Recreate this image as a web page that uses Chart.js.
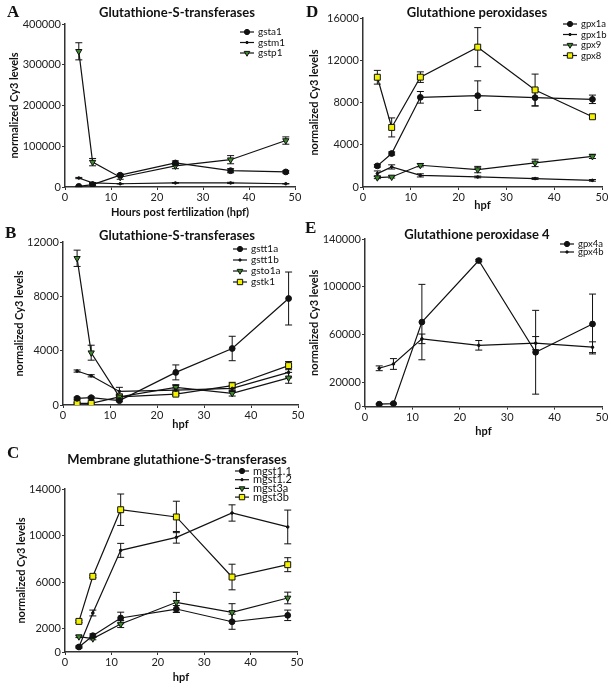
<!DOCTYPE html>
<html>
<head>
<meta charset="utf-8">
<script src="https://cdn.jsdelivr.net/npm/chart.js@4.4.0/dist/chart.umd.min.js"></script>
<style>
  body { margin: 0; background: #fff; width: 614px; height: 689px; position: relative; overflow: hidden; font-family: Lato, sans-serif; color: #111; }
  canvas { position: absolute; }
  .letter { position: absolute; font-family: "Liberation Serif", serif; font-weight: bold; font-size: 17px; line-height: 1; }
  .ttl { position: absolute; font-weight: bold; font-size: 13px; transform: translate(-50%, -50%); white-space: nowrap; }
</style>
</head>
<body>
<canvas id="chartA" width="305" height="222" style="left:0;top:0"></canvas>
<canvas id="chartD" width="314" height="222" style="left:300px;top:0"></canvas>
<canvas id="chartB" width="308" height="210" style="left:0;top:222px"></canvas>
<canvas id="chartE" width="306" height="216" style="left:308px;top:222px"></canvas>
<canvas id="chartC" width="310" height="257" style="left:0;top:432px"></canvas>

<div class="letter" style="left:7px;top:3px">A</div>
<div class="letter" style="left:306px;top:3px">D</div>
<div class="letter" style="left:5px;top:224px">B</div>
<div class="letter" style="left:305px;top:219px">E</div>
<div class="letter" style="left:7px;top:444px">C</div>

<div class="ttl" style="left:177px;top:12px">Glutathione-S-transferases</div>
<div class="ttl" style="left:477px;top:12px">Glutathione peroxidases</div>
<div class="ttl" style="left:177px;top:235px">Glutathione-S-transferases</div>
<div class="ttl" style="left:477px;top:234px">Glutathione peroxidase 4</div>
<div class="ttl" style="left:177px;top:459px">Membrane glutathione-S-transferases</div>

<script>
// hours post fertilization
const hpf = [3, 6, 12, 24, 36, 48];
const hpfTicks = [0, 10, 20, 30, 40, 50];

// A - glutathione-S-transferases
const ticksA = [0, 100000, 200000, 300000, 400000];
const gsta1 = [1600, 6000, 29000, 59000, 40000, 37000];
const gsta1Err = [800, 2000, 3000, 5000, 5000, 3000];
const gstm1 = [22000, 10000, 8000, 10000, 10000, 8000];
const gstm1Err = [1500, 1000, 500, 1000, 1500, 500];
const gstp1 = [333000, 61000, 24000, 52000, 67000, 114000];
const gstp1Err = [21000, 9000, 5000, 7000, 10000, 9000];

// D - glutathione peroxidases
const ticksD = [0, 4000, 8000, 12000, 16000];
const gpx1a = [2000, 3170, 8490, 8650, 8460, 8300];
const gpx1aErr = [120, 150, 550, 1400, 800, 400];
const gpx1b = [1270, 1900, 1100, 950, 800, 630];
const gpx1bErr = [250, 200, 150, 80, 80, 80];
const gpx9 = [890, 950, 2060, 1650, 2280, 2900];
const gpx9Err = [100, 100, 150, 300, 350, 200];
const gpx8 = [10390, 5640, 10400, 13240, 9190, 6650];
const gpx8Err = [650, 900, 500, 1850, 1500, 150];

// B - glutathione-S-transferases
const ticksB = [0, 4000, 8000, 12000];
const gstt1a = [490, 540, 320, 2400, 4160, 7840];
const gstt1aErr = [80, 80, 80, 550, 900, 1950];
const gstt1b = [2500, 2150, 1000, 1100, 1220, 2400];
const gstt1bErr = [80, 80, 300, 150, 200, 400];
const gsto1a = [10800, 3850, 600, 1300, 860, 2000];
const gsto1aErr = [600, 550, 150, 200, 200, 400];
const gstk1 = [120, 120, 600, 800, 1420, 2900];
const gstk1Err = [50, 50, 200, 100, 250, 300];

// E - glutathione peroxidase 4
const ticksE = [0, 20000, 60000, 100000, 140000];
const gpx4a = [2000, 2500, 70600, 122000, 45400, 69000];
const gpx4aErr = [500, 500, 31500, 1000, 35000, 25000];
const gpx4b = [32000, 35600, 56600, 51200, 53000, 49600];
const gpx4bErr = [2000, 4500, 4000, 4000, 5500, 4500];

// C - membrane glutathione-S-transferases
const ticksC = [0, 2000, 6000, 10000, 14000];
const mgst11 = [430, 1400, 2920, 3690, 2600, 3150];
const mgst11Err = [80, 150, 500, 300, 650, 450];
const mgst12 = [430, 3350, 8730, 9850, 11940, 10740];
const mgst12Err = [80, 250, 600, 500, 700, 1450];
const mgst3a = [1320, 1150, 2400, 4270, 3400, 4640];
const mgst3aErr = [80, 100, 300, 850, 750, 500];
const mgst3b = [2630, 6500, 12220, 11600, 6440, 7500];
const mgst3bErr = [100, 100, 1350, 1350, 1100, 600];

const FONT = 'Lato';

// marker look per kind of series
function series(label, values, errors, kind) {
  const ds = {
    label: label,
    data: values.map((v, i) => ({ x: hpf[i], y: v })),
    errors: errors,
    borderColor: '#111',
    borderWidth: 1.2,
    tension: 0,
    pointBorderColor: '#111',
    pointBorderWidth: 1,
    pointStyle: 'circle',
    pointRotation: 0,
    pointBackgroundColor: '#111',
    pointRadius: 2.9
  };
  if (kind === 'small') {
    ds.pointRadius = 1.3;
  } else if (kind === 'tri') {
    ds.pointStyle = 'triangle';
    ds.pointRotation = 180;
    ds.pointBackgroundColor = '#3b8a2a';
    ds.pointRadius = 3.6;
  } else if (kind === 'sq') {
    ds.pointStyle = 'rect';
    ds.pointBackgroundColor = '#f2f200';
    ds.pointRadius = 4.2;
  }
  return ds;
}

// vertical error bars with caps
const errorBars = {
  id: 'errorBars',
  beforeDatasetsDraw(chart) {
    const { ctx, scales: { x, y } } = chart;
    ctx.save();
    ctx.strokeStyle = '#111';
    ctx.lineWidth = 1;
    chart.data.datasets.forEach(ds => {
      if (!ds.errors) return;
      ds.data.forEach((p, i) => {
        const e = ds.errors[i];
        const px = x.getPixelForValue(p.x);
        const top = y.getPixelForValue(p.y + e);
        const bot = y.getPixelForValue(Math.max(p.y - e, 0));
        ctx.beginPath();
        ctx.moveTo(px, top); ctx.lineTo(px, bot);
        ctx.moveTo(px - 3.5, top); ctx.lineTo(px + 3.5, top);
        ctx.moveTo(px - 3.5, bot); ctx.lineTo(px + 3.5, bot);
        ctx.stroke();
      });
    });
    ctx.restore();
  }
};

// legend drawn as line + marker + name
const lineLegend = {
  id: 'lineLegend',
  afterDraw(chart, args, opts) {
    const ctx = chart.ctx;
    ctx.save();
    ctx.font = opts.size + 'px ' + FONT;
    ctx.textBaseline = 'middle';
    chart.data.datasets.forEach((ds, i) => {
      const y = opts.y + i * opts.gap;
      ctx.strokeStyle = '#111';
      ctx.lineWidth = 1.2;
      ctx.beginPath();
      ctx.moveTo(opts.x, y); ctx.lineTo(opts.x + 14, y);
      ctx.stroke();
      ctx.fillStyle = ds.pointBackgroundColor;
      ctx.lineWidth = 1;
      Chart.helpers.drawPoint(ctx, {
        pointStyle: ds.pointStyle, rotation: ds.pointRotation,
        radius: ds.pointRadius * 0.9, borderWidth: 1
      }, opts.x + 7, y);
      ctx.fillStyle = '#111';
      ctx.fillText(ds.label, opts.x + 18, y);
    });
    ctx.restore();
  }
};

function makeChart(id, datasets, yTicks, xTitle, box, legend) {
  const xAxis = {
    type: 'linear',
    min: 0, max: 50,
    afterBuildTicks: s => { s.ticks = hpfTicks.map(v => ({ value: v })); },
    grid: { drawOnChartArea: false, tickLength: 3, tickColor: '#333' },
    border: { color: '#333', width: 1.5 },
    ticks: { font: { family: FONT, size: 11 }, color: '#222', padding: 1, maxRotation: 0, autoSkip: false },
    title: { display: true, text: xTitle, font: { family: FONT, size: 11, weight: 'bold' }, color: '#111', padding: { top: 0, bottom: 0 } }
  };
  // fixed axis height where given, natural size otherwise
  if (box.xh) xAxis.afterFit = s => { s.height = box.xh; };

  return new Chart(document.getElementById(id).getContext('2d'), {
    type: 'line',
    data: { datasets: datasets },
    plugins: [errorBars, lineLegend],
    options: {
      responsive: false,
      animation: false,
      layout: { padding: { left: 0, top: box.top, right: box.right, bottom: box.bottom } },
      plugins: {
        legend: { display: false },
        tooltip: { enabled: false },
        lineLegend: legend
      },
      scales: {
        x: xAxis,
        y: {
          min: 0, max: yTicks[yTicks.length - 1],
          afterBuildTicks: s => { s.ticks = yTicks.map(v => ({ value: v })); },
          afterFit: s => { s.width = box.yw; },
          grid: { drawOnChartArea: false, tickLength: 3, tickColor: '#333' },
          border: { color: '#333', width: 1.5 },
          ticks: { font: { family: FONT, size: 11 }, color: '#222', padding: 1, callback: v => String(v) },
          title: { display: true, text: 'normalized Cy3 levels', font: { family: FONT, size: 11, weight: 'bold' }, color: '#111', padding: { top: box.yt, bottom: 0 } }
        }
      }
    }
  });
}

makeChart('chartA', [
  series('gsta1', gsta1, gsta1Err, 'dot'),
  series('gstm1', gstm1, gstm1Err, 'small'),
  series('gstp1', gstp1, gstp1Err, 'tri')
], ticksA, 'Hours post fertilization (hpf)',
  { top: 24, right: 10, bottom: 3, xh: 32, yw: 65, yt: 8 },
  { x: 240, y: 32, gap: 10.5, size: 10 });

makeChart('chartD', [
  series('gpx1a', gpx1a, gpx1aErr, 'dot'),
  series('gpx1b', gpx1b, gpx1bErr, 'small'),
  series('gpx9', gpx9, gpx9Err, 'tri'),
  series('gpx8', gpx8, gpx8Err, 'sq')
], ticksD, 'hpf',
  { top: 18, right: 12, bottom: 10, xh: 25, yw: 63, yt: 8 },
  { x: 263, y: 24, gap: 10.5, size: 9.5 });

makeChart('chartB', [
  series('gstt1a', gstt1a, gstt1aErr, 'dot'),
  series('gstt1b', gstt1b, gstt1bErr, 'small'),
  series('gsto1a', gsto1a, gsto1aErr, 'tri'),
  series('gstk1', gstk1, gstk1Err, 'sq')
], ticksB, 'hpf',
  { top: 20, right: 10, bottom: 1, xh: 26, yw: 63, yt: 13 },
  { x: 233, y: 27, gap: 11, size: 10 });

makeChart('chartE', [
  series('gpx4a', gpx4a, gpx4aErr, 'dot'),
  series('gpx4b', gpx4b, gpx4bErr, 'small')
], ticksE, 'hpf',
  { top: 17, right: 12, bottom: 0, yw: 57, yt: 0 },
  { x: 252, y: 22, gap: 8, size: 9.5 });

makeChart('chartC', [
  series('mgst1.1', mgst11, mgst11Err, 'dot'),
  series('mgst1.2', mgst12, mgst12Err, 'small'),
  series('mgst3a', mgst3a, mgst3aErr, 'tri'),
  series('mgst3b', mgst3b, mgst3bErr, 'sq')
], ticksC, 'hpf',
  { top: 57, right: 13, bottom: 5, xh: 32, yw: 65, yt: 15 },
  { x: 235, y: 39, gap: 8.7, size: 11 });
</script>
</body>
</html>
